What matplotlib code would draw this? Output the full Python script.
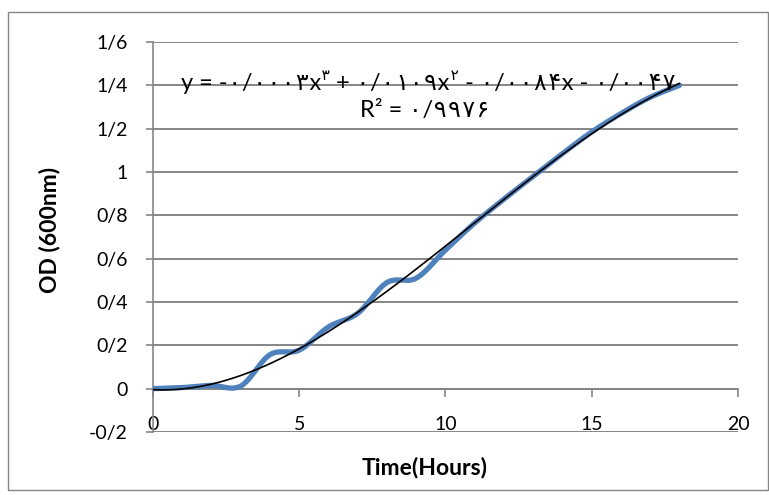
import numpy as np
import matplotlib
matplotlib.use('Agg')
import matplotlib.pyplot as plt
from matplotlib.patches import Rectangle

# growth curve (OD 600nm), hourly
hours = [0, 1, 2, 3, 4, 5, 6, 7, 8, 9, 10, 11, 12, 13, 14, 15, 16, 17, 18]
od = [0.0, 0.005, 0.015, 0.012, 0.157, 0.178, 0.285, 0.348, 0.49, 0.51,
      0.64, 0.765, 0.875, 0.98, 1.085, 1.185, 1.27, 1.345, 1.40]

y_ticks = [-0.2, 0, 0.2, 0.4, 0.6, 0.8, 1.0, 1.2, 1.4, 1.6]
y_tick_labels = ['-0/2', '0', '0/2', '0/4', '0/6', '0/8', '1', '1/2', '1/4', '1/6']
x_ticks = [0, 5, 10, 15, 20]
x_tick_labels = ['0', '5', '10', '15', '20']

# trendline text as shown on the chart (persian digits)
eq_parts = [('y = -۰/۰۰۰۳x', False), ('۳', True), (' + ۰/۰۱۰۹x', False),
            ('۲', True), (' - ۰/۰۰۸۴x - ۰/۰۰۴۷', False)]
r2_text = 'R² = ۰/۹۹۷۶'

fam = ['Lato', 'DejaVu Sans']
eq_fam = ['Lato', 'DejaVu Sans Mono', 'DejaVu Sans']
plt.rcParams['font.family'] = fam
grey = '#868686'
blue = '#4F81BD'


def smooth_line(xs, ys, n=24):
    # excel-like smoothed line (catmull-rom through the points)
    P = np.column_stack([xs, ys]).astype(float)
    P = np.vstack([P[0], P, P[-1]])
    out = []
    t = np.linspace(0, 1, n)[:, None]
    for i in range(1, len(P) - 2):
        p0, p1, p2, p3 = P[i - 1], P[i], P[i + 1], P[i + 2]
        seg = 0.5 * (2 * p1 + (-p0 + p2) * t + (2 * p0 - 5 * p1 + 4 * p2 - p3) * t ** 2
                     + (-p0 + 3 * p1 - 3 * p2 + p3) * t ** 3)
        out.append(seg if i == 1 else seg[1:])
    out = np.vstack(out)
    return out[:, 0], out[:, 1]


fig = plt.figure(figsize=(7.69, 4.95), dpi=100)
ax = fig.add_axes([153 / 769, 1 - 432 / 495, (738 - 153) / 769, (432 - 42) / 495])

# outer chart frame
fig.patches.append(Rectangle((8 / 769, 5 / 495), 760 / 769, 478 / 495, transform=fig.transFigure,
                             fill=False, edgecolor=grey, linewidth=1.0))

sx, sy = smooth_line(hours, od)
ax.plot(sx, sy, color=blue, linewidth=3.8, solid_capstyle='round', zorder=3)

# polynomial trendline (order 3)
coef = np.polyfit(hours, od, 3)
tx = np.linspace(hours[0], hours[-1], 200)
ax.plot(tx, np.polyval(coef, tx), color='black', linewidth=1.2, zorder=4)

ax.set_xlim(0, 20)
ax.set_ylim(-0.2, 1.6)
ax.set_yticks(y_ticks)
ax.set_yticklabels(y_tick_labels)
ax.set_xticks(x_ticks)
ax.set_xticklabels(x_tick_labels)
ax.grid(axis='y', color=grey, linewidth=1.4)
ax.set_axisbelow(True)

for s in ['top', 'right']:
    ax.spines[s].set_visible(False)
ax.spines['left'].set_color(grey)
ax.spines['left'].set_linewidth(1.2)
ax.spines['bottom'].set_position(('data', 0))
ax.spines['bottom'].set_color(grey)
ax.spines['bottom'].set_linewidth(1.2)
ax.tick_params(axis='y', direction='out', length=5, width=1.2, color=grey, labelsize=14, pad=13)
ax.tick_params(axis='x', direction='out', length=6, width=1.2, color=grey, labelsize=14, pad=14)

fig.text(50 / 769, 1 - 230 / 495, 'OD (600nm)', rotation=90, ha='center', va='center',
         fontsize=16.5, fontweight='bold')
fig.text(425 / 769, 1 - 467 / 495, 'Time(Hours)', ha='center', va='center',
         fontsize=16.5, fontweight='bold')

# equation, built from pieces so the exponents sit raised
eq_size = 17
prev = fig.text(181 / 769, 1 - 94 / 495, eq_parts[0][0], fontsize=eq_size, va='bottom', family=eq_fam)
base = prev
for txt, sup in eq_parts[1:]:
    if sup:
        prev = ax.annotate(txt, xy=(1, 0.5), xycoords=prev, fontsize=eq_size * 0.65, va='bottom',
                           family=eq_fam)
    else:
        prev = ax.annotate(txt, xy=(1, 0), xycoords=(prev, base), fontsize=eq_size, va='bottom',
                           family=eq_fam)
        base = prev
fig.text(425 / 769, 1 - 111 / 495, r2_text, fontsize=eq_size, ha='center', va='center', family=eq_fam)

fig.savefig('out.png', dpi=100)
